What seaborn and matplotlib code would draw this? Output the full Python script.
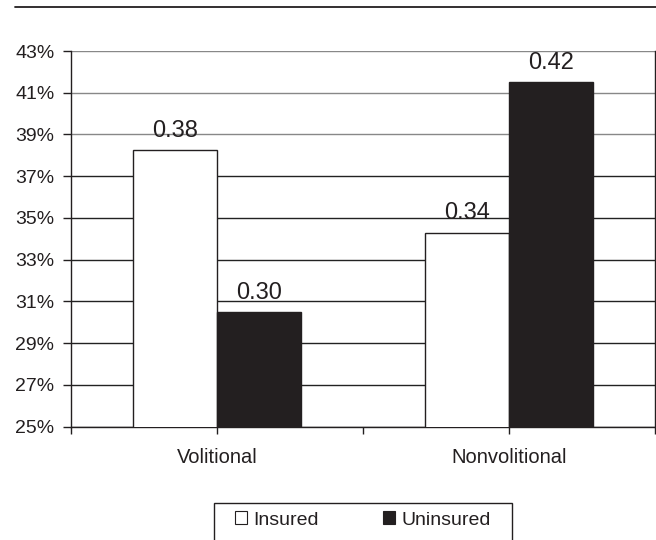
import matplotlib
matplotlib.use("Agg")
import matplotlib.pyplot as plt
import seaborn as sns
import pandas as pd
import numpy as np
from matplotlib.lines import Line2D
from matplotlib.patches import Patch, Rectangle
from matplotlib.ticker import PercentFormatter

categories = ["Volitional", "Nonvolitional"]
series = ["Insured", "Uninsured"]
insured = [0.3825, 0.343]
uninsured = [0.3048, 0.4152]
y_ticks = [0.25, 0.27, 0.29, 0.31, 0.33, 0.35, 0.37, 0.39, 0.41, 0.43]

df = pd.DataFrame({
    "category": categories * 2,
    "group": [series[0]] * 2 + [series[1]] * 2,
    "value": insured + uninsured,
})

sns.set_style("white")
plt.rcParams["font.family"] = ["Liberation Sans", "DejaVu Sans"]

W, H = 656, 540
fig = plt.figure(figsize=(6.56, 5.4), dpi=100)
ax = fig.add_axes([71 / W, 1 - 426.7 / H, (655 - 71) / W, (426.7 - 51) / H])

colors = ["white", "#231f20"]
sns.barplot(data=df, x="category", y="value", hue="group", order=categories,
            hue_order=series, palette=colors, width=0.575, edgecolor="#231f20",
            linewidth=1, saturation=1, ax=ax, legend=False, zorder=3)

ax.set_ylim(0.25, 0.43)
ax.set_xlim(-0.5, 1.5)
ax.set_yticks(y_ticks)
ax.yaxis.set_major_formatter(PercentFormatter(1.0, decimals=0))
ax.set_xlabel("")
ax.set_ylabel("")
ax.grid(axis="y", linewidth=1, zorder=0)
ax.set_axisbelow(True)
for val, gl in zip(y_ticks, ax.get_ygridlines()):
    gl.set_color("#888888" if val >= 0.385 else "#222222")

for c in ax.containers:
    ax.bar_label(c, fmt="%.2f", padding=6, fontsize=17, color="#231f20")

for s in ["left", "bottom", "right"]:
    ax.spines[s].set_visible(True)
    ax.spines[s].set_color("#231f20")
    ax.spines[s].set_linewidth(1)
ax.spines["top"].set_visible(False)

ax.tick_params(axis="y", direction="out", length=6, width=1, color="#231f20",
               labelsize=14, pad=6, left=True, labelcolor="#231f20")
ax.tick_params(axis="x", direction="out", length=5, width=1, color="#231f20",
               labelsize=14.5, pad=10, bottom=True, labelcolor="#231f20")
ax.set_xticks([-0.5, 0.5, 1.5], minor=True)
ax.tick_params(axis="x", which="minor", direction="out", length=5, width=1,
               color="#231f20", bottom=True)

fig.add_artist(Line2D([15 / W, 1.0], [1 - 7 / H, 1 - 7 / H],
                      color="#231f20", linewidth=1.3))

# legend frame (extends past the bottom edge, as in the reference)
fig.add_artist(Rectangle((214 / W, 1 - 560 / H), (512 - 214) / W, (560 - 503) / H,
                         transform=fig.transFigure, facecolor="white",
                         edgecolor="#231f20", linewidth=1, zorder=5))

handles = [Patch(facecolor=colors[0], edgecolor="#231f20", linewidth=0.8),
           Patch(facecolor=colors[1], edgecolor="#231f20", linewidth=0.8)]
leg = fig.legend(handles, series, loc="center left",
                 bbox_to_anchor=(235 / W, 1 - 520 / H), ncol=2,
                 frameon=False, fontsize=14,
                 handlelength=0.6, handleheight=0.6, handletextpad=0.35,
                 columnspacing=3.3, borderpad=0, borderaxespad=0)
leg.set_zorder(6)
for t in leg.get_texts():
    t.set_color("#231f20")

fig.savefig("out.png", dpi=100)
